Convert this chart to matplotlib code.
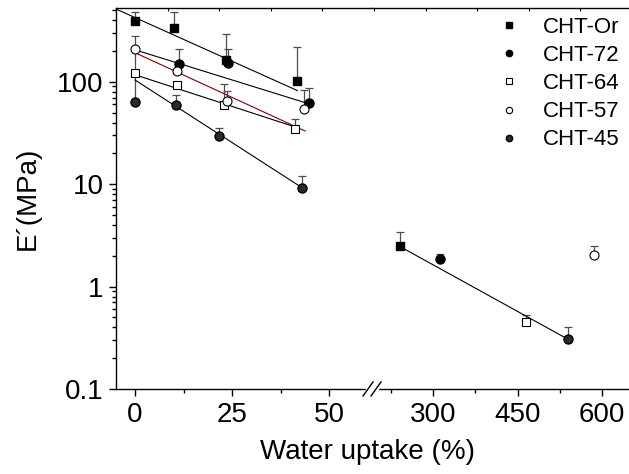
import numpy as np
import matplotlib
matplotlib.use("Agg")
import matplotlib.pyplot as plt
from matplotlib.lines import Line2D
from matplotlib.ticker import FixedLocator, LogLocator, NullFormatter

plt.rcParams["font.family"] = ["Liberation Sans", "DejaVu Sans"]

# ******* data *******************************
or_x = [0, 10, 23.5, 41.8, 241]
or_y = [394, 334, 162, 102, 2.47]
or_top = [482, 482, 294, 219, 3.39]

c72_x = [11.3, 24, 44.8, 312]
c72_y = [150, 152, 62.5, 1.86]
c72_top = [210, 210, 87, 2.1]

c64_x = [0, 10.9, 22.8, 41.2, 465]
c64_y = [121, 93.5, 59.7, 34.8, 0.449]
c64_top = [121, 93.5, 95.6, 43.6, 0.533]

c57_x = [0, 10.9, 23.7, 43.6, 585]
c57_y = [210, 128, 65, 54.5, 2.05]
c57_top = [281, 128, 82, 83.5, 2.47]

c45_x = [0, 10.6, 21.6, 43, 540]
c45_y = [64, 59.7, 29.8, 9.2, 0.309]
c45_top = [200, 73.5, 35.5, 12.1, 0.40]

# fitted lines (end points)
fit_or = ([-4.9, 41.8], [513, 82])
fit_72 = ([0, 43.8], [205, 62.5])
fit_57 = ([0, 43.8], [192, 33])
fit_64 = ([0, 41.8], [117, 35.6])
fit_45 = ([0, 42.5], [104, 9.5])
fit_wet = ([241, 540], [2.47, 0.305])

# ******* figure ********
W, H = 629, 474
fig = plt.figure(figsize=(W / 100, H / 100), dpi=100)

x0, x_brk, x1 = 116, 372, 632
y_bot, y_top = 389, 8
bot = (H - y_bot) / H
hgt = (y_bot - y_top) / H

ax_l = fig.add_axes([x0 / W, bot, (x_brk - x0) / W, hgt])
ax_r = fig.add_axes([x_brk / W, bot, (x1 - x_brk) / W, hgt], sharey=ax_l)

series = [
    (or_x, or_y, or_top, dict(marker="s", ms=6, mfc="black", mec="black")),
    (c72_x, c72_y, c72_top, dict(marker="o", ms=6.5, mfc="black", mec="black")),
    (c64_x, c64_y, c64_top, dict(marker="s", ms=5.5, mfc="white", mec="black", mew=0.8)),
    (c57_x, c57_y, c57_top, dict(marker="o", ms=6.5, mfc="white", mec="black", mew=0.8)),
    (c45_x, c45_y, c45_top, dict(marker="o", ms=6.5, mfc="#2a2a2a", mec="black")),
]

for ax in (ax_l, ax_r):
    for xs, ys, tops, st in series:
        ys = np.array(ys)
        up = np.array(tops) - ys
        ax.errorbar(xs, ys, yerr=[np.zeros_like(up), up], fmt="none",
                    ecolor="0.3", elinewidth=0.9, capsize=2.6, capthick=0.9, zorder=2)
        ax.plot(xs, ys, ls="none", zorder=3, **st)
    for (fx, fy), col in [(fit_or, "black"), (fit_72, "black"), (fit_57, "#7a0000"),
                          (fit_64, "black"), (fit_45, "black"), (fit_wet, "black")]:
        ax.plot(fx, fy, color=col, lw=0.8, zorder=2.5)

ax_l.set_yscale("log")
ax_l.set_ylim(0.1, 525)
ax_l.set_xlim(-4.9, 61)
ax_r.set_xlim(192, 653)

ax_l.set_yticks([0.1, 1, 10, 100])
ax_l.set_yticklabels(["0.1", "1", "10", "100"])
ax_l.yaxis.set_minor_locator(LogLocator(base=10, subs=np.arange(2, 10)))
ax_l.yaxis.set_minor_formatter(NullFormatter())

ax_l.set_xticks([0, 25, 50])
ax_l.xaxis.set_minor_locator(FixedLocator([12.5, 37.5]))
ax_r.set_xticks([300, 450, 600])
ax_r.xaxis.set_minor_locator(FixedLocator([225, 375, 525]))

for ax in (ax_l, ax_r):
    ax.tick_params(which="major", direction="out", length=5, width=1, labelsize=20, pad=4)
    ax.tick_params(which="minor", direction="out", length=3, width=1)
    ax.tick_params(top=False, which="both")
    ax.spines["right"].set_visible(False)
    for s in ax.spines.values():
        s.set_linewidth(1)
ax_r.spines["left"].set_visible(False)
ax_r.tick_params(axis="y", which="both", left=False, labelleft=False)

# top axis ticks (unbroken)
ax_t = fig.add_axes([x0 / W, bot, (x1 - x0) / W, hgt])
ax_t.patch.set_visible(False)
for s in ax_t.spines.values():
    s.set_visible(False)
ax_t.set_xlim(0, 10)
ax_t.set_xticks(range(1, 10))
ax_t.set_yticks([])
ax_t.tick_params(axis="x", top=True, bottom=False, labeltop=False, labelbottom=False,
                 direction="in", length=2.5, width=0.8)

# axis break marks
def px(x, y):
    return x / W, 1 - y / H

fig.add_artist(Line2D(*zip(px(x_brk - 5, y_bot), px(x_brk + 5, y_bot)), color="white", lw=2.5))
for dx in (-4, 4):
    fig.add_artist(Line2D(*zip(px(x_brk + dx - 5, y_bot + 7), px(x_brk + dx + 5, y_bot - 7)),
                          color="black", lw=1))

ax_l.set_ylabel("E\u00b4(MPa)", fontsize=20, labelpad=12)
fig.text(367 / W, 1 - 452 / H, "Water uptake (%)", fontsize=20, ha="center", va="center")

handles = [Line2D([], [], ls="none", **st) for _, _, _, st in series]
labels = ["CHT-Or", "CHT-72", "CHT-64", "CHT-57", "CHT-45"]
fig.legend(handles, labels, loc="upper left", bbox_to_anchor=px(498, 17), frameon=False,
           fontsize=16, markerscale=0.7, handlelength=1.0, handletextpad=1.0,
           labelspacing=0.32, borderpad=0, borderaxespad=0)

fig.savefig("out.png", dpi=100)
